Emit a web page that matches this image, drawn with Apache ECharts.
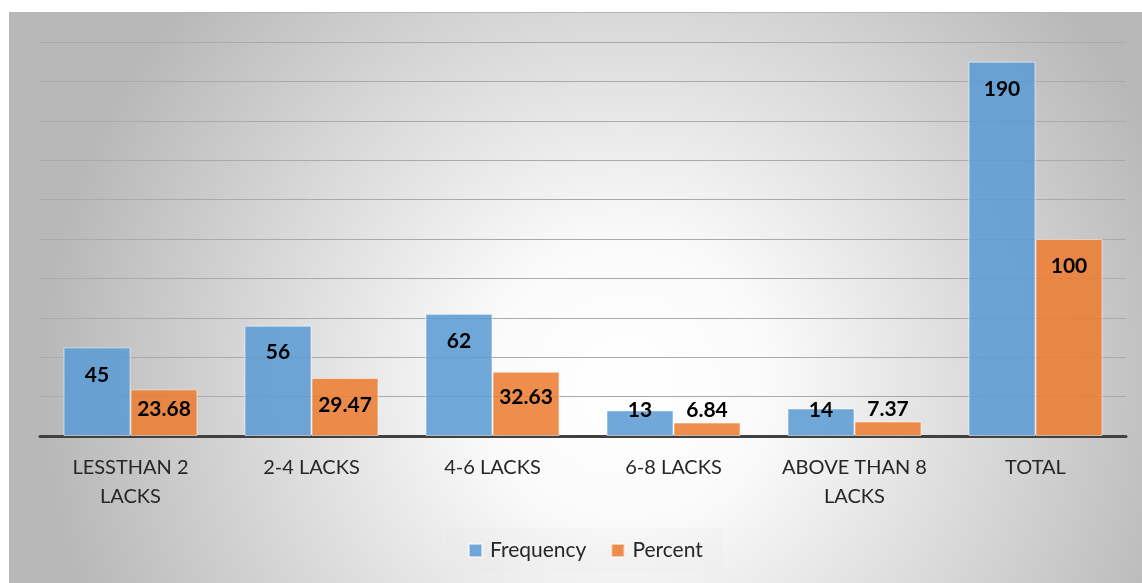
<!DOCTYPE html>
<html>
<head>
<meta charset="utf-8">
<script src="https://cdn.jsdelivr.net/npm/echarts@6/dist/echarts.min.js"></script>
<style>
  html, body { margin: 0; padding: 0; background: #ffffff; }
  #chart { width: 1142px; height: 583px; }
</style>
</head>
<body>
<div id="chart"></div>
<script>
// Loan-size groups (in lakhs) and respondent counts
var categories = ['LESSTHAN 2\nLACKS', '2-4 LACKS', '4-6 LACKS', '6-8 LACKS', 'ABOVE THAN 8\nLACKS', 'TOTAL'];
var frequency = [45, 56, 62, 13, 14, 190];
var percent = [23.68, 29.47, 32.63, 6.84, 7.37, 100];
var yTicks = { min: 0, max: 200, interval: 20 };

// Vertical placement of each value label, in px below the bar's top edge
var freqLabelDy = [28, 27, 27, 0, 2, 28];
var pctLabelDy = [20, 27, 26, -12, -12, 27];

var FONT = 'Lato, "Open Sans", sans-serif';

function withLabels(values, dys) {
  return values.map(function (v, i) {
    return { value: v, label: { position: ['50%', dys[i]] } };
  });
}

var chart = echarts.init(document.getElementById('chart'), null, { renderer: 'canvas' });

chart.setOption({
  animation: false,
  backgroundColor: '#ffffff',
  graphic: [
    {
      type: 'rect',
      z: -10,
      silent: true,
      shape: { x: 9.5, y: 12.5, width: 1140, height: 580 },
      style: {
        fill: {
          type: 'radial', x: 0.54, y: 0.64, r: 1.0,
          colorStops: [
            { offset: 0, color: '#ffffff' },
            { offset: 0.25, color: '#fafafa' },
            { offset: 1, color: '#b8b8b8' }
          ]
        },
        stroke: '#b5b5b5',
        lineWidth: 1
      }
    }
  ],
  grid: { left: 40, right: 16, top: 42, bottom: 147, containLabel: false },
  legend: {
    data: ['Frequency', 'Percent'],
    bottom: 10,
    left: 446,
    itemWidth: 13,
    itemHeight: 13,
    itemGap: 24,
    padding: [12, 20, 12, 22],
    backgroundColor: 'rgba(225,225,225,0.15)',
    icon: 'rect',
    textStyle: { fontFamily: FONT, fontSize: 21, color: '#262626', padding: [0, 0, 0, 3] }
  },
  xAxis: {
    type: 'category',
    data: categories,
    axisTick: { show: false },
    axisLine: { lineStyle: { color: '#404040', width: 3 } },
    axisLabel: {
      fontFamily: FONT, fontSize: 20, color: '#262626',
      margin: 17, lineHeight: 29, interval: 0
    }
  },
  yAxis: {
    type: 'value',
    min: yTicks.min, max: yTicks.max, interval: yTicks.interval,
    axisLabel: { show: false },
    axisLine: { show: false },
    axisTick: { show: false },
    splitLine: { lineStyle: { color: '#aaaaaa', width: 1 } }
  },
  series: [
    {
      name: 'Frequency',
      type: 'bar',
      barWidth: 67,
      barGap: '0%',
      data: withLabels(frequency, freqLabelDy),
      itemStyle: { color: 'rgba(91,155,213,0.87)', borderColor: 'rgba(255,255,255,0.55)', borderWidth: 1 },
      label: {
        show: true, align: 'center', verticalAlign: 'middle',
        fontFamily: FONT, fontSize: 21, fontWeight: 'bold', color: '#000000'
      }
    },
    {
      name: 'Percent',
      type: 'bar',
      barWidth: 67,
      data: withLabels(percent, pctLabelDy),
      itemStyle: { color: 'rgba(237,125,49,0.87)', borderColor: 'rgba(255,255,255,0.55)', borderWidth: 1 },
      label: {
        show: true, align: 'center', verticalAlign: 'middle',
        fontFamily: FONT, fontSize: 21, fontWeight: 'bold', color: '#000000',
        formatter: function (p) { return p.value.toFixed(2).replace(/\.00$/, ''); }
      }
    }
  ]
});
</script>
</body>
</html>
